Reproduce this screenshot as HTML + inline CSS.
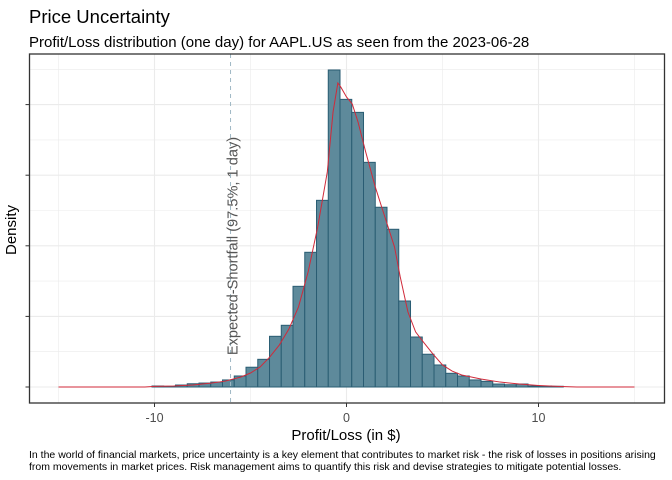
<!DOCTYPE html>
<html><head><meta charset="utf-8"><style>
body{margin:0;background:#fff;font-family:"Liberation Sans",sans-serif}
svg{display:block}
</style></head><body>
<svg id="c" width="672" height="480" xmlns="http://www.w3.org/2000/svg">
<text x="29" y="23" font-size="18.5" fill="#000">Price Uncertainty</text>
<text x="29" y="47" font-size="15" fill="#000">Profit/Loss distribution (one day) for AAPL.US as seen from the 2023-06-28</text>
<g id="grid"></g><g id="bars"></g><g id="curve"></g><g id="axes"></g>
<text x="16" y="230" font-size="15" text-anchor="middle" transform="rotate(-90 16 230)">Density</text>
<text x="346" y="440" font-size="15" text-anchor="middle">Profit/Loss (in $)</text>
<text x="29" y="458" font-size="10.5" fill="#000">In the world of financial markets, price uncertainty is a key element that contributes to market risk - the risk of losses in positions arising</text>
<text x="29" y="470" font-size="10.5" fill="#000">from movements in market prices. Risk management aims to quantify this risk and devise strategies to mitigate potential losses.</text>
</svg>
<script>
const binStart = -10.13;
const binWidth = 0.612;
const binDensity = [0.0007,0.0004,0.0014,0.0023,0.0028,0.0035,0.005,0.0078,0.014,0.0196,0.0359,0.0437,0.0713,0.0954,0.1322,0.2245,0.2037,0.1945,0.1591,0.1273,0.1117,0.0609,0.0354,0.0232,0.0156,0.0097,0.0078,0.005,0.004,0.0021,0.0016,0.0021,0.0007,0.0007,0.0005];
const curveX = [-15,-10.5,-10,-9,-8,-7,-6.3,-5.5,-5,-4.5,-4,-3.5,-3,-2.5,-2,-1.5,-1,-0.7,-0.45,-0.3,0,0.3,0.6,1,1.5,2,2.5,2.8,3.2,3.6,4,4.5,5,5.5,6,7,8,9,10,11,12,15];
const curveY = [0,0,0.0004,0.0007,0.0014,0.0028,0.0042,0.0071,0.0099,0.0142,0.0212,0.0297,0.0411,0.0567,0.0814,0.1133,0.1523,0.1948,0.2153,0.2125,0.2054,0.2004,0.1877,0.1664,0.1416,0.1204,0.0992,0.0779,0.0531,0.039,0.0319,0.0234,0.0156,0.0113,0.0085,0.0057,0.0035,0.0021,0.0011,0.0004,0,0];
const xTicks = [-10,0,10];
const esValue = -6.04;
const NS='http://www.w3.org/2000/svg';
const L=29.5,R=664.5,T=54,B=403;
const sx=v=>346.5+v*19.2;
const sy=d=>387-d*1412;
function mk(tag,attrs,parent){const e=document.createElementNS(NS,tag);for(const k in attrs)e.setAttribute(k,attrs[k]);document.getElementById(parent).appendChild(e);return e;}
for(let v=-15;v<=15;v+=5){const g=mk('line',{x1:sx(v),x2:sx(v),y1:T,y2:B,stroke:'#ebebeb','stroke-width':v%10===0?1.1:0.6},'grid');

}
for(let d=0;d<=0.24;d+=0.025){const y=sy(d);if(y<T)continue;const g=mk('line',{x1:L,x2:R,y1:y,y2:y,stroke:'#ebebeb','stroke-width':(Math.round(d*1000)%50===0)?1.1:0.6},'grid');

}
binDensity.forEach((d,i)=>{const x0=sx(binStart+i*binWidth),x1=sx(binStart+(i+1)*binWidth);
const r=mk('rect',{x:x0,y:sy(d),width:x1-x0,height:387-sy(d),fill:'#5e8a9b',stroke:'#2a5d73','stroke-width':1},'bars');

});
const p=mk('polyline',{points:curveX.map((x,i)=>sx(x)+','+sy(curveY[i])).join(' '),fill:'none',stroke:'#d02a3a','stroke-width':1},'curve');


const es=mk('line',{x1:sx(esValue),x2:sx(esValue),y1:T,y2:B,stroke:'#9fb8c4','stroke-dasharray':'4,4','stroke-width':1},'curve');


const ex=sx(esValue)+7;
const et=mk('text',{x:ex,y:246,'font-size':14.6,fill:'#555','text-anchor':'middle',transform:`rotate(-90 ${ex} 246)`},'curve');
et.textContent='Expected-Shortfall (97.5%, 1 day)';


const box=mk('rect',{x:L,y:T,width:R-L,height:B-T,fill:'none',stroke:'#333','stroke-width':1.3},'axes');


for(let d=0;d<=0.2;d+=0.05){const y=sy(d);const t=mk('line',{x1:L-4,x2:L,y1:y,y2:y,stroke:'#333','stroke-width':1},'axes');

}
xTicks.forEach(v=>{const t=mk('line',{x1:sx(v),x2:sx(v),y1:B,y2:B+4,stroke:'#333','stroke-width':1},'axes');


const lb=mk('text',{x:sx(v),y:B+19,'font-size':12.5,fill:'#4d4d4d','text-anchor':'middle'},'axes');
lb.textContent=v;

});
</script>
</body></html>
